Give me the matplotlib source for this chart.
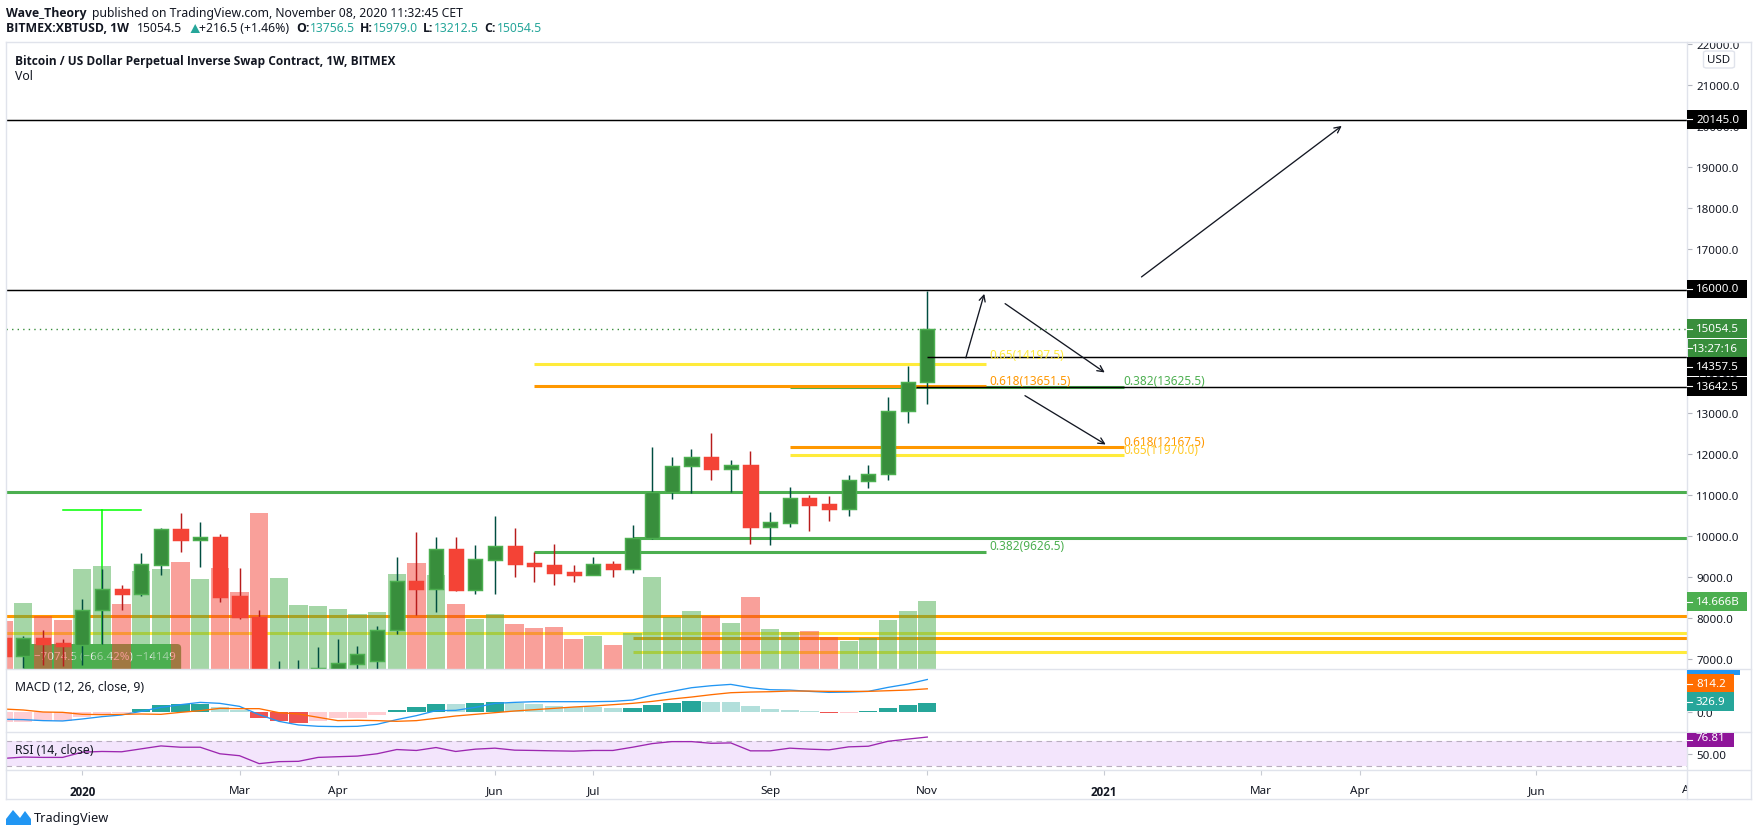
import matplotlib
matplotlib.use("Agg")
import matplotlib.pyplot as plt
from matplotlib.patches import Rectangle, FancyBboxPatch, Polygon
from matplotlib.lines import Line2D
from matplotlib.transforms import Bbox

plt.rcParams['font.family'] = ['Noto Sans', 'DejaVu Sans']

# weekly candles, bar 0 is cut by the left edge
opens = [7526, 7080, 7526, 7400, 7350, 8200, 8720, 8600, 9300, 10170, 9910, 9980,
         8540, 8030, 5350, 6150, 6250, 6770, 6890, 6960, 7710, 8910, 8720, 9700,
         8700, 9430, 9760, 9350, 9300, 9130, 9060, 9320, 9210, 9950, 11070, 11700,
         11940, 11640, 11740, 10225, 10330, 10930, 10780, 10670, 11350, 11520, 13050, 13756.5]
highs = [7700, 7570, 7720, 7500, 8480, 9200, 8820, 9590, 10200, 10570, 10350, 10060,
         9230, 8190, 6970, 6985, 7310, 7500, 7320, 7820, 9500, 10110, 9990, 9990,
         9790, 10500, 10200, 9610, 9810, 9300, 9490, 9400, 10270, 12180, 11930, 12130,
         12520, 11860, 12080, 10590, 11200, 11000, 10980, 11500, 11740, 13400, 14150, 15979]
lows = [6800, 6790, 6850, 6840, 6850, 7380, 8210, 8550, 9055, 9620, 9255, 8400,
        7980, 3600, 4900, 5900, 6000, 6500, 6650, 6750, 7620, 8090, 8160, 8660,
        8590, 8590, 9000, 8890, 8810, 8890, 9050, 9010, 9100, 9930, 10910, 11050,
        11370, 11080, 9810, 9790, 10225, 10130, 10370, 10500, 11180, 11370, 12770, 13212.5]
closes = [7080, 7526, 7380, 7330, 8200, 8720, 8600, 9320, 10170, 9910, 9980, 8520,
          8030, 5350, 6150, 6300, 6790, 6910, 7130, 7710, 8910, 8720, 9700, 8690,
          9450, 9760, 9320, 9280, 9110, 9060, 9320, 9205, 9950, 11070, 11710, 11940,
          11640, 11740, 10225, 10350, 10930, 10760, 10660, 11370, 11520, 13060, 13750, 15054.5]
volumes = [10.4, 14.2, 11.5, 10.6, 21.6, 22.2, 14.0, 21.1, 21.6, 23.1, 19.4, 21.8,
           16.6, 33.6, 19.6, 13.8, 13.6, 12.9, 11.9, 12.3, 20.5, 22.9, 20.3, 14.0,
           10.8, 11.9, 9.7, 8.8, 9.1, 6.5, 7.1, 5.2, 7.8, 19.8, 11.3, 12.5,
           11.4, 9.9, 15.5, 8.6, 8.0, 8.2, 6.9, 6.0, 6.7, 10.6, 12.5, 14.666]
macd_line = [-257, -268, -303, -315, -245, -163, -105, 23, 163, 257, 338, 303,
             198, -93, -327, -455, -502, -513, -502, -432, -268, -128, 47, 58,
             163, 303, 338, 362, 362, 362, 362, 373, 420, 595, 724, 852,
             922, 969, 852, 782, 770, 724, 689, 700, 724, 864, 980, 1141]
macd_signal = [105, 70, 0, -12, -82, -93, -82, -70, -82, -12, 47, 128,
               117, 117, -23, -70, -187, -303, -292, -303, -327, -303, -222, -140,
               -82, -23, 35, 82, 128, 175, 210, 257, 303, 373, 455, 525,
               607, 677, 700, 712, 735, 735, 724, 724, 724, 747, 770, 814]
macd_hist = [-362, -338, -303, -303, -163, -70, -23, 93, 245, 268, 292, 175,
             82, -210, -303, -385, -315, -210, -210, -93, 58, 175, 280, 280,
             315, 350, 315, 280, 210, 175, 175, 140, 141, 245, 315, 385,
             350, 350, 210, 105, 70, 35, -35, -35, 35, 140, 233, 326.9]
rsi = [42.6, 44.7, 44.2, 44.2, 52.6, 53.7, 53.2, 57.9, 62.6, 60.5, 60.5, 50,
       46.9, 34.2, 37.4, 37.9, 44.2, 45.3, 46.3, 50, 56.8, 55.3, 60, 53.7,
       57.4, 59, 55.8, 55.3, 54.7, 54.2, 55.3, 55.3, 60.5, 66.3, 69.5, 69.5,
       66.8, 67.4, 54.7, 54.7, 59, 57.4, 56.3, 61.1, 62.1, 70, 73.5, 76.81]

price_ticks = list(range(7000, 22001, 1000))
time_ticks = [4, 12, 17, 25, 30, 39, 47, 56, 64, 69, 78]
time_labels = ['2020', 'Mar', 'Apr', 'Jun', 'Jul', 'Sep', 'Nov', '2021', 'Mar', 'Apr', 'Jun']

# level lines: price, first bar, last bar (None = to the edges)
black_levels = [(20145, None, None), (16000, None, None), (14357.5, 47, None), (13642.5, 46.4, None)]
green_levels = [(11070, None, None), (9950, 32, None), (9626.5, 27, 50), (13625.5, 40, 57)]
orange_levels = [(13651.5, 27, 50), (12167.5, 40, 57), (8050, None, None), (7512, 32, None)]
yellow_levels = [(14197.5, 27, 50), (11970, 40, 57), (7635, None, None), (7170, 32, None)]
fib_labels = [('0.65(14197.5)', 50.15, 14260, '#FFEB3B'), ('0.618(13651.5)', 50.15, 13625, '#FF9800'),
              ('0.382(13625.5)', 57.0, 13630, '#4CAF50'), ('0.618(12167.5)', 57.0, 12160, '#FF9800'),
              ('0.65(11970.0)', 57.0, 11950, '#FFCA28'), ('0.382(9626.5)', 50.15, 9620, '#4CAF50')]
arrows = [((57.9, 16317), (68.09, 19997)), ((48.96, 14343), (49.9, 15905)),
          ((50.96, 15666), (56.03, 13989)), ((51.97, 13424), (56.08, 12234))]

W, H = 1758, 837
GRID = '#E0E3EB'
TXT = '#131722'
TEAL = '#26A69A'
FS = 8.3
XL = (0.117, 85.66)
SX0, SX1 = 6, 1687
BOLD = ['Open Sans', 'Liberation Sans', 'DejaVu Sans']

fig = plt.figure(figsize=(W / 100, H / 100), dpi=100, facecolor='white')


def pane(y0, y1, z=1):
    a = fig.add_axes([SX0 / W, 1 - y1 / H, (SX1 - SX0) / W, (y1 - y0) / H], zorder=z)
    a.set_xlim(*XL)
    a.patch.set_visible(False)
    for s in a.spines.values():
        s.set_visible(False)
    a.set_xticks([])
    a.set_yticks([])
    return a


def ftext(x, y, s, **kw):
    kw.setdefault('fontsize', 8.8)
    kw.setdefault('color', TXT)
    kw.setdefault('va', 'center')
    if kw.get('fontweight') == 'bold':
        kw['family'] = BOLD
    return fig.text(x / W, 1 - y / H, s, **kw)


def fline(x0, y0, x1, y1, color=GRID, lw=1.0, z=9):
    fig.add_artist(Line2D([x0 / W, x1 / W], [1 - y0 / H, 1 - y1 / H], color=color, lw=lw, zorder=z))


def tag(y, text, color, x1=1747, x0=1687, tx=1696, h=18.6, ty=None):
    fig.add_artist(Rectangle((x0 / W, 1 - (y + h / 2) / H), (x1 - x0) / W, h / H,
                             facecolor=color, edgecolor='none', zorder=10))
    fline(1687, y, 1692, y, color='white', lw=0.8, z=11)
    ftext(tx, y if ty is None else ty, text, color='white', fontsize=FS, zorder=12)


def hlevels(a, levels, color, lw, z):
    for price, start, end in levels:
        x0 = XL[0] if start is None else start
        x1 = XL[1] if end is None else end
        a.plot([x0, x1], [price, price], color=color, lw=lw, solid_capstyle='butt', zorder=z)


# main pane, three layers so volume sits over the levels and candles over volume
ax = pane(43, 670, 1)
ax.set_ylim(6764, 22041)
ax_vol = pane(43, 670, 2)
ax_vol.set_ylim(0, 627 * 0.2157)
ax_c = pane(43, 670, 3)
ax_c.set_ylim(6764, 22041)

hlevels(ax, green_levels, '#4CAF50', 2.2, 2)
hlevels(ax, orange_levels, '#FF9800', 2.2, 3)
hlevels(ax, yellow_levels, '#FFEB3B', 2.2, 3)
hlevels(ax_c, black_levels[:2], 'black', 1.05, 1)
hlevels(ax_c, black_levels[2:], 'black', 1.05, 5)
ax.axhline(15054.5, color='#388E3C', lw=1, ls=(0, (1, 3)), zorder=2)

# price range tool behind the volume
ax.plot([3, 7], [10650, 10650], color='#00FF00', lw=1.1, zorder=4)
ax.plot([5.02, 5.02], [10650, 6700], color='#00FF00', lw=1.1, zorder=4)
ax.add_patch(FancyBboxPatch((1.03, 6500), 8, 873, boxstyle='round,pad=0,rounding_size=0.2',
                            mutation_aspect=487, facecolor='#4CAF50', edgecolor='none', zorder=5))
ax.text(1.54, 7085, '\u22127074.5 (\u221266.42%) \u221214149', color='#F2F2F2', fontsize=8.3,
        va='center', zorder=6)

idx = list(range(len(opens)))
up = [c >= o for o, c in zip(opens, closes)]
vol_colors = ['#4CAF50' if u else '#F44336' for u in up]
ax_vol.bar(idx, volumes, width=0.93, color=vol_colors, alpha=0.5, linewidth=0)

wick_colors = ['#004D40' if u else '#B71C1C' for u in up]
ax_c.vlines(idx, lows, highs, colors=wick_colors, lw=1.05, zorder=2)
ax_c.bar(idx, [c - o for o, c in zip(opens, closes)], bottom=opens, width=0.72,
         color=['#388E3C' if u else '#F44336' for u in up],
         edgecolor=['#4CAF50' if u else '#F44336' for u in up], linewidth=1.05, zorder=3)

for (start, end) in arrows:
    ax_c.annotate('', xy=end, xytext=start,
                  arrowprops=dict(arrowstyle='->', color='#131722', lw=0.95, mutation_scale=11,
                                  shrinkA=0, shrinkB=0), zorder=6)
for s, x, y, c in fib_labels:
    ax_c.text(x, y, s, color=c, fontsize=8.5, va='bottom', ha='left', zorder=7)

ax.yaxis.tick_right()
ax.set_yticks(price_ticks)
ax.set_yticklabels(['%.1f' % p for p in price_ticks], fontsize=FS, color=TXT)
ax.tick_params(axis='y', length=3.6, width=0.8, color='#B2B5BE', pad=2.9)
clip = Bbox([[0, 0], [W, H - 43]])
for t in ax.get_yticklabels():
    t.set_clip_on(True)
    t.set_clip_box(clip)

# MACD
ax_m = pane(670, 733)
ax_m.set_ylim(-702, 1509)
hist_colors = []
for i, v in enumerate(macd_hist):
    prev = macd_hist[i - 1] if i else v
    if v >= 0:
        hist_colors.append(TEAL if v > prev else '#B2DFDB')
    else:
        hist_colors.append('#FFCDD2' if v >= prev else '#EF5350')
ax_m.bar(idx, macd_hist, width=0.93, color=hist_colors, linewidth=0)
ax_m.plot(idx, macd_line, color='#2196F3', lw=0.95)
ax_m.plot(idx, macd_signal, color='#FF6D00', lw=0.95)
ax_m.yaxis.tick_right()
ax_m.set_yticks([0])
ax_m.set_yticklabels(['0.0'], fontsize=FS, color=TXT)
ax_m.tick_params(axis='y', length=3.6, width=0.8, color='#B2B5BE', pad=2.9)

# RSI
ax_r = pane(733, 771)
ax_r.set_ylim(24, 84.9)
ax_r.axhspan(30, 70, color='#F3E5FC', linewidth=0)
for lev in (30, 70):
    ax_r.axhline(lev, color='#B9AEBF', lw=0.8, ls=(0, (5, 4)))
ax_r.plot(idx, rsi, color='#9C27B0', lw=0.95)
ax_r.yaxis.tick_right()
ax_r.set_yticks([50])
ax_r.set_yticklabels(['50.00'], fontsize=FS, color=TXT)
ax_r.tick_params(axis='y', length=3.6, width=0.8, color='#B2B5BE', pad=2.9)
ax_r.set_xticks(time_ticks)
ax_r.set_xticklabels(time_labels, fontsize=8.4, color=TXT)
ax_r.tick_params(axis='x', length=3.6, width=0.8, color='#C8CBD3', pad=7.5)
for t, s in zip(ax_r.get_xticklabels(), time_labels):
    if s.startswith('20'):
        t.set_fontweight('bold')
        t.set_family(BOLD)
aug = ftext(1693, 791, 'Aug', fontsize=8.4, ha='center')
aug.set_clip_on(True)
aug.set_clip_box(Bbox([[0, 0], [SX1, H]]))

# frame of the chart
fline(6, 43, 1751, 43)
fline(6, 800, 1751, 800)
fline(6, 43, 6, 800)
fline(1751, 43, 1751, 800)
fline(1687, 43, 1687, 800)
fline(6, 670, 1751, 670)
fline(6, 733, 1751, 733)
fline(6, 771, 1751, 771)

# price tags
tag(120.3, '20145.0', 'black')
tag(290, '16000.0', 'black')
tag(329.5, '15054.5', '#388E3C')
tag(349.2, '13:27:16', '#388E3C', x0=1688, tx=1692)
tag(367.5, '14357.5', 'black')
tag(387.3, '13642.5', 'black')
tag(602.5, '14.666B', '#4CAF50')
fig.add_artist(Rectangle((1687 / W, 1 - 675.7 / H), 53 / W, 4.7 / H, facecolor='#2196F3', edgecolor='none', zorder=10))
tag(684.7, '814.2', '#FF6D00', x1=1734)
tag(702.7, '326.9', TEAL, x1=1734)
tag(740.8, '76.81', '#8E1599', x1=1734, h=13.8, ty=738.8)

fig.add_artist(FancyBboxPatch((1703.5 / W, 1 - 69 / H), 31 / W, 17 / H,
                              boxstyle='round,pad=0,rounding_size=0.002', facecolor='white',
                              edgecolor=GRID, lw=1, zorder=10, transform=fig.transFigure))
ftext(1719, 60.5, 'USD', fontsize=8.3, ha='center', zorder=11)

# header lines
ftext(6, 13, 'Wave_Theory', fontweight='bold')
ftext(92, 13, 'published on TradingView.com, November 08, 2020 11:32:45 CET')
ftext(6, 29, 'BITMEX:XBTUSD, 1W', fontweight='bold')
ftext(137, 29, '15054.5')
fig.add_artist(Polygon([(190.5 / W, 1 - 34 / H), (200 / W, 1 - 34 / H), (195.2 / W, 1 - 25 / H)],
                       closed=True, facecolor=TEAL, edgecolor='none'))
ftext(199.5, 29, '+216.5 (+1.46%)')
for x, s in [(296, 'O:'), (360, 'H:'), (423, 'L:'), (484, 'C:')]:
    ftext(x, 29, s, fontweight='bold')
for x, s in [(309.5, '13756.5'), (373, '15979.0'), (434, '13212.5'), (497, '15054.5')]:
    ftext(x, 29, s, color=TEAL)

ftext(15, 61, 'Bitcoin / US Dollar Perpetual Inverse Swap Contract, 1W, BITMEX', fontweight='bold',
      fontsize=8.6, zorder=12)
ftext(15, 77, 'Vol', zorder=12)
ftext(15, 688, 'MACD (12, 26, close, 9)', zorder=12)
ftext(15, 751, 'RSI (14, close)', zorder=12)

# logo and footer
logo = [(6, 826), (6, 820), (13, 811), (20, 819), (25, 812), (31, 820), (31, 826)]
fig.add_artist(Polygon([(x / W, 1 - y / H) for x, y in logo], closed=True, facecolor='#2196F3', edgecolor='none'))
ftext(34, 819, 'TradingView', fontsize=9.2)

fig.savefig('out.png', dpi=100)
